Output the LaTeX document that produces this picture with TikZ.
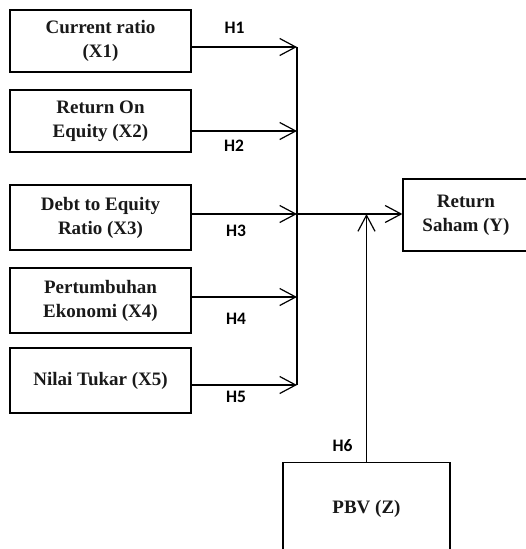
\documentclass[tikz,border=0pt]{standalone}
\usepackage{fontspec}
\setmainfont{Liberation Serif}
\newfontfamily\hfont{Carlito}
\usetikzlibrary{arrows.meta}
\begin{document}
\begin{tikzpicture}[x=1pt,y=1pt,
  box/.style={draw=black, line width=1.2pt, minimum width=181pt, inner sep=2pt,
    align=center, font=\fontsize{19}{24}\selectfont\bfseries, text=black!90},
  conn/.style={line width=1.2pt, -{Straight Barb[length=16pt,width=17pt,line width=1.2pt]}},
  hlab/.style={font=\hfont\fontsize{17.5}{20}\selectfont\bfseries, inner sep=0pt}]
\useasboundingbox (0,0) rectangle (526,-549);
\clip (0,0) rectangle (526,-549);
% left boxes
\node[box, minimum height=62pt] (b1) at (100.5,-41) {Current ratio\\(X1)};
\node[box, minimum height=62pt] (b2) at (100.5,-121) {Return On\\Equity (X2)};
\node[box, minimum height=65pt] (b3) at (100.5,-217.5) {Debt to Equity\\Ratio (X3)};
\node[box, minimum height=65pt] (b4) at (100.5,-300.5) {Pertumbuhan\\Ekonomi (X4)};
\node[box, minimum height=65pt] (b5) at (100.5,-380.5) {Nilai Tukar (X5)};
% right boxes
\node[box, minimum width=126pt, minimum height=72pt] (r) at (466,-215) {Return\\Saham (Y)};
\node[box, minimum width=167pt, minimum height=110pt, anchor=north] (p) at (366.5,-462) {\raisebox{22pt}{PBV (Z)}};
% junction coordinates
\coordinate (j1) at (297,-47);
\coordinate (j2) at (297,-131);
\coordinate (j3) at (297,-214);
\coordinate (j4) at (297,-297);
\coordinate (j5) at (297,-385);
\coordinate (m) at (p.north |- j3);
% connectors
\draw[line width=1.2pt] (j1) -- (j5);
\draw[conn] (b1.east |- j1) -- (j1);
\draw[conn] (b2.east |- j2) -- (j2);
\draw[conn] (b3.east |- j3) -- (j3);
\draw[conn] (b4.east |- j4) -- (j4);
\draw[conn] (b5.east |- j5) -- (j5);
\draw[conn] (j3) -- (r.west |- j3);
\draw[conn] (p.north) -- (m);
% labels
\node[hlab] (h1) at (234.5,-28) {H1};
\node[hlab] (h2) at (234,-146) {H2};
\node[hlab] (h3) at (236,-231) {H3};
\node[hlab] (h4) at (236,-319) {H4};
\node[hlab] (h5) at (236,-397) {H5};
\node[hlab] (h6) at (342.5,-446) {H6};
\end{tikzpicture}
\end{document}
